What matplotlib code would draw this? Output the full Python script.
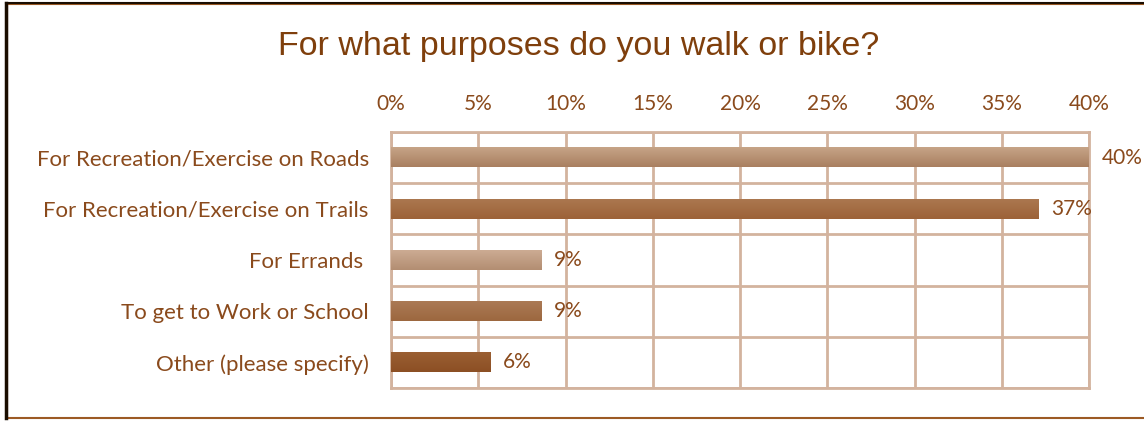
import numpy as np
import matplotlib.pyplot as plt
from matplotlib.colors import LinearSegmentedColormap
from matplotlib.patches import Rectangle
from matplotlib.lines import Line2D

# survey answers (share of respondents, %)
purposes = [
    "For Recreation/Exercise on Roads",
    "For Recreation/Exercise on Trails",
    "For Errands ",
    "To get to Work or School",
    "Other (please specify)",
]
shares = [40.0, 37.1, 8.6, 8.6, 5.7]
x_ticks = [0, 5, 10, 15, 20, 25, 30, 35, 40]

# top/bottom shade of each bar's gradient
bar_shades = [
    ("#c6a487", "#a97f60"),
    ("#ab774f", "#9c6238"),
    ("#ccab93", "#b38e72"),
    ("#ab7a55", "#9c673f"),
    ("#9a5f33", "#8c4f24"),
]

text_col = "#8a4a1c"
title_col = "#7f3f0c"
grid_col = "#d3b39e"

plt.rcParams['font.family'] = ['Lato', 'DejaVu Sans']

fig = plt.figure(figsize=(11.44, 4.21), dpi=100)
ax = fig.add_axes([391 / 1144, 1 - 388 / 421, 698 / 1144, 256 / 421])

y = np.arange(len(purposes))
bars = ax.barh(y, shares, height=0.38, color="none", zorder=3)

# vertical gradient inside every bar
grad = np.linspace(0, 1, 64).reshape(-1, 1)
for bar, (c_top, c_bot) in zip(bars, bar_shades):
    cmap = LinearSegmentedColormap.from_list("b", [c_top, c_bot])
    x0, y0 = bar.get_x(), bar.get_y()
    w, h = bar.get_width(), bar.get_height()
    ax.imshow(grad, cmap=cmap, aspect="auto", extent=(x0, x0 + w, y0 + h, y0),
              zorder=3, interpolation="bilinear")
    ax.annotate(f"{bar.get_width():.0f}%", xy=(x0 + w, y0 + h / 2),
                xytext=(9, 0), textcoords="offset points", ha="left", va="center",
                fontsize=15, color=text_col, zorder=5)

ax.set_xlim(0, 40)
ax.set_ylim(len(purposes) - 0.5, -0.5)

ax.set_xticks(x_ticks)
ax.set_xticklabels([f"{t}%" for t in x_ticks])
ax.xaxis.tick_top()
ax.set_yticks(y)
ax.set_yticklabels(purposes)
ax.tick_params(axis="x", length=0, pad=13, labelsize=15, labelcolor=text_col)
ax.tick_params(axis="y", length=0, pad=16, labelsize=16, labelcolor=text_col)

# grid: vertical lines at every tick, horizontal lines between categories
ax.set_yticks(np.arange(-0.5, len(purposes)), minor=True)
ax.tick_params(axis="y", which="minor", length=0)
ax.grid(axis="x", which="major", color=grid_col, linewidth=2, zorder=0)
ax.grid(axis="y", which="minor", color=grid_col, linewidth=2, zorder=0)
for s in ax.spines.values():
    s.set_color(grid_col)
    s.set_linewidth(2)

fig.text(579 / 1144, 1 - 47 / 421, "For what purposes do you walk or bike?",
         ha="center", va="center", fontsize=24.5, color=title_col,
         family=["Liberation Sans", "DejaVu Sans"])

# chart frame
fig.patches.append(Rectangle((7 / 1144, 3 / 421), 1.1, 1 - 7 / 421, transform=fig.transFigure,
                             fill=False, edgecolor="#9c5a24", linewidth=1.5))
fig.lines.append(Line2D([6 / 1144, 6 / 1144], [3 / 421, 1 - 3 / 421], transform=fig.transFigure,
                        color="#1a0d00", linewidth=2.5))
fig.lines.append(Line2D([6 / 1144, 1], [1 - 3 / 421, 1 - 3 / 421], transform=fig.transFigure,
                        color="#1a0d00", linewidth=1.5))

fig.savefig("out.png", dpi=100)
